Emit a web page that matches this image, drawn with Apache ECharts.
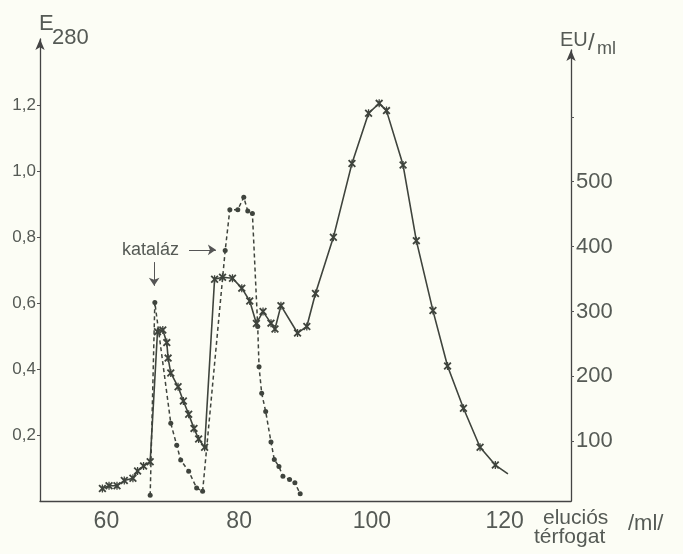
<!DOCTYPE html>
<html>
<head>
<meta charset="utf-8">
<script src="https://cdn.jsdelivr.net/npm/echarts@6/dist/echarts.min.js"></script>
<style>
html,body{margin:0;padding:0;background:#fcfdf5;}
#chart{width:683px;height:554px;}
</style>
</head>
<body>
<div id="chart"></div>
<script>
// Solid line (E280) — elution volume (ml) and absorbance
const volE280 = [59.4, 60.4, 61.6, 62.7, 64.0, 64.7, 65.6, 66.6, 67.7, 68.5, 69.1, 69.3, 69.7, 70.8, 71.6, 72.4, 73.2, 73.9, 74.8, 76.3, 77.5, 79.0, 80.4, 81.6, 82.6, 83.6, 84.8, 85.4, 86.3, 88.8, 90.2, 91.5, 94.2, 97.0, 99.5, 101.1, 102.2, 104.7, 106.7, 109.2, 111.4, 113.8, 116.3, 118.6, 120.5];
const e280 = [0.038, 0.046, 0.046, 0.062, 0.069, 0.091, 0.106, 0.119, 0.513, 0.518, 0.48, 0.433, 0.388, 0.346, 0.303, 0.263, 0.22, 0.188, 0.163, 0.672, 0.678, 0.675, 0.645, 0.606, 0.538, 0.574, 0.539, 0.521, 0.592, 0.509, 0.529, 0.629, 0.799, 1.023, 1.175, 1.205, 1.183, 1.018, 0.789, 0.577, 0.409, 0.281, 0.163, 0.109, 0.082];

// Dashed line (kataláz activity, EU/ml)
const volKat = [66.6, 67.3, 69.7, 70.6, 71.2, 72.4, 73.6, 74.5, 77.9, 78.6, 79.8, 80.7, 81.3, 82.0, 82.8, 83.0, 83.4, 84.0, 84.8, 85.3, 86.0, 86.6, 87.6, 88.4, 89.2];
const euKat = [17, 314, 128, 94, 71, 54, 28, 23, 394, 457, 457, 476, 455, 451, 277, 215, 174, 146, 99, 72, 61, 46, 41, 36, 19];

// Tick labels
const xTicks = [60, 80, 100, 120];
const leftTicks = [0.2, 0.4, 0.6, 0.8, 1.0, 1.2];
const rightTicks = [100, 200, 300, 400, 500, 600];
const rightLabels = [100, 200, 300, 400, 500];

// Annotation arrows (data coordinates on E280 axis)
const arrowDown = [[67.2, 0.724], [67.2, 0.652]];
const arrowRight = [[72.45, 0.761], [76.5, 0.761]];

const ink = '#3f443d';
const txt = '#555a55';
const ff = 'Liberation Sans';
const starPath = 'path://M0,1.6L1.6,0L5,3.4L8.4,0L10,1.6L6.6,5L10,8.4L8.4,10L5,6.6L1.6,10L0,8.4L3.4,5Z M4.2,0L5.8,0L5.8,10L4.2,10Z';

const solidData = volE280.map((v, i) => {
  const d = {value: [v, e280[i]]};
  if (i === volE280.length - 1) d.symbol = 'none';
  return d;
});
const dashedData = volKat.map((v, i) => [v, euKat[i]]);

const chart = echarts.init(document.getElementById('chart'));
chart.setOption({
  backgroundColor: '#fcfdf5',
  animation: false,
  textStyle: {fontFamily: ff},
  grid: [
    {left: 40, right: 112, top: 39, bottom: 53},
    {left: 40, right: 112, top: 50, bottom: 53}
  ],
  xAxis: [
    {
      gridIndex: 0, type: 'value', min: 50, max: 130,
      axisLine: {show: true, onZero: false, lineStyle: {color: '#444', width: 1.3}},
      axisTick: {show: false},
      splitLine: {show: false},
      axisLabel: {customValues: xTicks, fontSize: 23, color: txt, margin: 9, fontFamily: ff}
    },
    {gridIndex: 1, type: 'value', min: 50, max: 130, show: false}
  ],
  yAxis: [
    {
      gridIndex: 0, type: 'value', min: 0, max: 1.4, position: 'left',
      axisLine: {show: true, onZero: false, symbol: ['none', 'arrow'], symbolSize: [7, 11], lineStyle: {color: '#444', width: 1.3}},
      axisTick: {show: true, length: 3, customValues: leftTicks, lineStyle: {color: '#555'}},
      axisLabel: {customValues: leftTicks, fontSize: 17, color: txt, margin: 4, fontFamily: ff,
        formatter: v => v.toFixed(1).replace('.', ',')},
      splitLine: {show: false}
    },
    {
      gridIndex: 1, type: 'value', min: 8, max: 703, position: 'right',
      axisLine: {show: true, onZero: false, symbol: ['none', 'arrow'], symbolSize: [7, 11], lineStyle: {color: '#444', width: 1.3}},
      axisTick: {show: true, length: 3, inside: false, customValues: rightTicks, lineStyle: {color: '#555'}},
      axisLabel: {customValues: rightLabels, fontSize: 22, color: txt, margin: 5, fontFamily: ff},
      splitLine: {show: false}
    }
  ],
  series: [
    {
      type: 'line', xAxisIndex: 0, yAxisIndex: 0, data: solidData,
      symbol: starPath, symbolSize: 8,
      lineStyle: {color: ink, width: 1.6},
      itemStyle: {color: ink},
      markLine: {
        silent: true, symbol: ['none', 'arrow'], symbolSize: 8,
        label: {show: false},
        lineStyle: {type: 'solid', color: '#555', width: 1},
        data: [
          [{coord: arrowDown[0]}, {coord: arrowDown[1]}],
          [{coord: arrowRight[0]}, {coord: arrowRight[1]}]
        ]
      }
    },
    {
      type: 'line', xAxisIndex: 1, yAxisIndex: 1, data: dashedData,
      symbol: 'circle', symbolSize: 5,
      lineStyle: {color: ink, width: 1.5, type: [4, 3]},
      itemStyle: {color: ink}
    }
  ],
  graphic: [
    {type: 'text', left: 39, top: 13, style: {text: 'E', fontSize: 22, fill: txt, fontFamily: ff}},
    {type: 'text', left: 52, top: 27, style: {text: '280', fontSize: 22, fill: txt, fontFamily: ff}},
    {type: 'text', left: 560, top: 30, style: {text: 'EU', fontSize: 20, fill: txt, fontFamily: ff}},
    {type: 'text', left: 588, top: 31, style: {text: '/', fontSize: 24, fill: txt, fontFamily: ff}},
    {type: 'text', left: 597, top: 40, style: {text: 'ml', fontSize: 18, fill: txt, fontFamily: ff}},
    {type: 'text', left: 122, top: 241, style: {text: 'kataláz', fontSize: 18, fill: txt, fontFamily: ff}},
    {type: 'text', left: 543, top: 508, style: {text: 'eluciós', fontSize: 21, fill: txt, fontFamily: ff}},
    {type: 'text', left: 534, top: 527, style: {text: 'térfogat', fontSize: 21, fill: txt, fontFamily: ff}},
    {type: 'text', left: 628, top: 513, style: {text: '/ml/', fontSize: 22, fill: txt, fontFamily: ff}}
  ]
});
</script>
</body>
</html>
